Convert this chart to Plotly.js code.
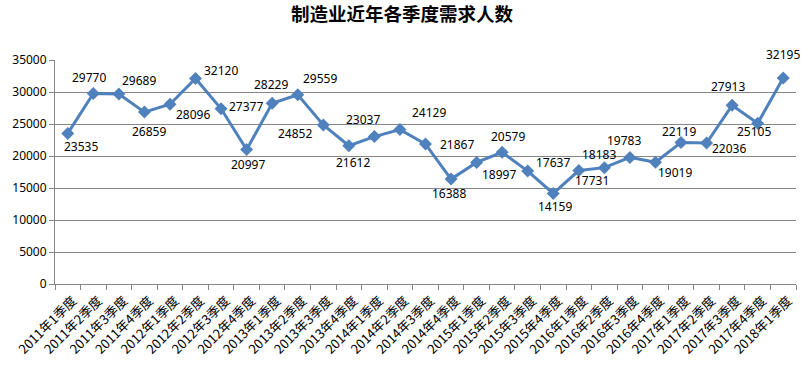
<!DOCTYPE html>
<html>
<head>
<meta charset="utf-8">
<script src="https://cdn.plot.ly/plotly-3.0.1.min.js"></script>
<style>html,body{margin:0;padding:0;background:#fff;}#chart{width:807px;height:370px;}</style>
</head>
<body>
<div id="chart"></div>
<script>
const quarters = [
  "2011年1季度","2011年2季度","2011年3季度","2011年4季度",
  "2012年1季度","2012年2季度","2012年3季度","2012年4季度",
  "2013年1季度","2013年2季度","2013年3季度","2013年4季度",
  "2014年1季度","2014年2季度","2014年3季度","2014年4季度",
  "2015年1季度","2015年2季度","2015年3季度","2015年4季度",
  "2016年1季度","2016年2季度","2016年3季度","2016年4季度",
  "2017年1季度","2017年2季度","2017年3季度","2017年4季度",
  "2018年1季度"
];
const demand = [
  23535, 29770, 29689, 26859,
  28096, 32120, 27377, 20997,
  28229, 29559, 24852, 21612,
  23037, 24129, 21867, 16388,
  18997, 20579, 17637, 14159,
  17731, 18183, 19783, 19019,
  22119, 22036, 27913, 25105,
  32195
];
const yTicks = [0, 5000, 10000, 15000, 20000, 25000, 30000, 35000];

// label offsets in pixels [dx, dy] (dy downwards), styling only
const labelShift = [
  [13,13],[-4,-16],[20,-13],[5,19],
  [23,10],[25,-8],[25,-2],[1,15],
  [-1,-19],[22,-16],[-28,9],[4,17],
  [-11,-17],[29,-17],[31,0],[-2,14],
  [22,12],[6,-16],[25,-9],[2,13],
  [13,10],[-5,-13],[-6,-17],[20,10],
  [-2,-11],[22,6],[-4,-19],[-4,8],
  [0,-23]
];

const annotations = quarters.map((q, i) => ({
  x: q, y: demand[i], xref: 'x', yref: 'y',
  text: String(demand[i]), showarrow: false,
  xshift: labelShift[i][0], yshift: -labelShift[i][1],
  font: {family: 'Noto Sans, sans-serif', size: 12, color: '#000'}
}));

const trace = {
  x: quarters, y: demand, type: 'scatter', mode: 'lines+markers',
  line: {color: '#4F81BD', width: 3},
  marker: {symbol: 'diamond', size: 10, color: '#4F81BD'},
  hoverinfo: 'x+y'
};

const layout = {
  width: 807, height: 370,
  margin: {l: 55, r: 11, t: 60, b: 86},
  paper_bgcolor: '#fff', plot_bgcolor: '#fff',
  showlegend: false,
  title: {text: '制造业近年各季度需求人数', x: 0.498, xanchor: 'center', y: 0.96, yanchor: 'middle',
    font: {family: 'Noto Sans CJK SC, sans-serif', size: 18.5, color: '#000', weight: 'bold'}},
  xaxis: {
    type: 'category', tickangle: -45, tickson: 'boundaries',
    ticks: 'outside', ticklen: 5, tickcolor: '#868686',
    ticklabelstandoff: 3, ticklabelshift: 5,
    showline: true, linecolor: '#868686', linewidth: 1,
    showgrid: false, zeroline: false,
    tickfont: {family: 'Noto Sans CJK SC, sans-serif', size: 13, color: '#000'},
    range: [-0.5, 28.5]
  },
  yaxis: {
    range: [0, 35000], tickvals: yTicks, ticktext: yTicks.map(String),
    ticks: 'outside', ticklen: 5, tickcolor: '#868686',
    showline: true, linecolor: '#868686', linewidth: 1,
    showgrid: true, gridcolor: '#868686', gridwidth: 1,
    zeroline: false,
    tickfont: {family: 'Noto Sans, sans-serif', size: 12, color: '#000'}
  },
  annotations: annotations
};

Plotly.newPlot('chart', [trace], layout, {displayModeBar: false, staticPlot: true});
</script>
</body>
</html>
